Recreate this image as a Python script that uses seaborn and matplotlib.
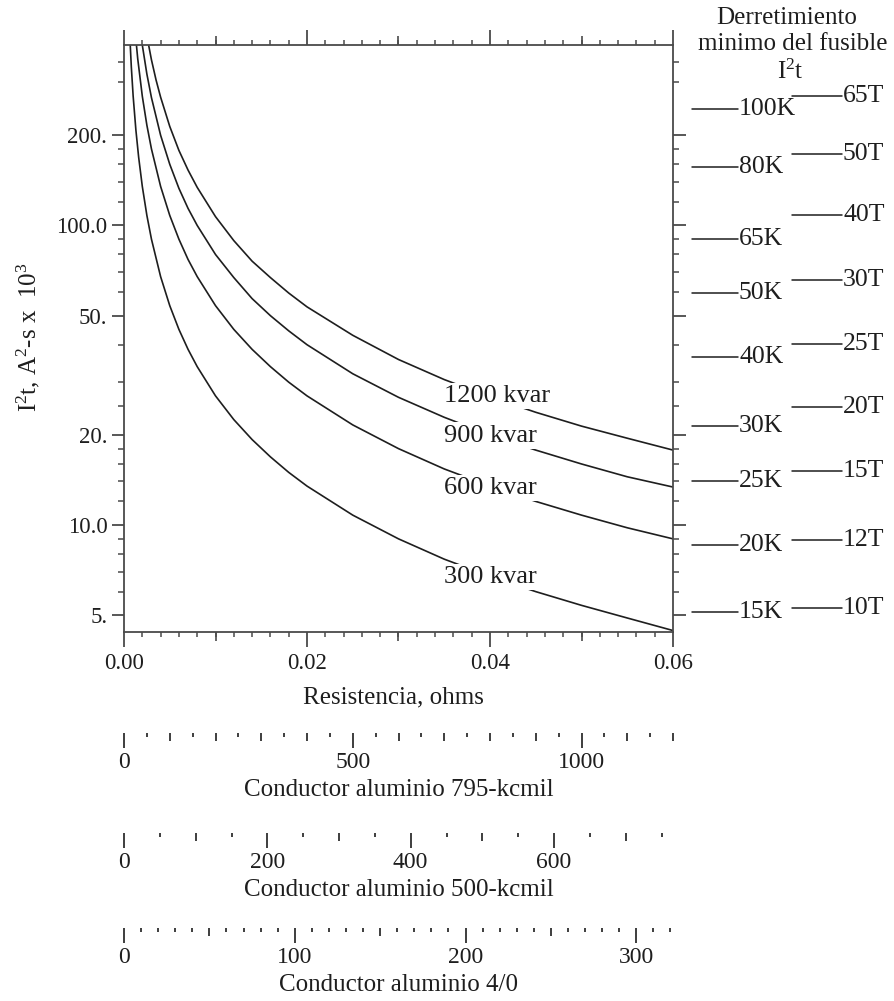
import numpy as np
import pandas as pd
import matplotlib
matplotlib.use("Agg")
import matplotlib.pyplot as plt
import matplotlib.transforms as mtransforms
from matplotlib.ticker import FixedLocator, FixedFormatter, NullFormatter
import seaborn as sns

# ---------------- data ----------------
kvar_labels = ["300 kvar", "600 kvar", "900 kvar", "1200 kvar"]

res_300 = [0.0006, 0.0008, 0.001, 0.0013, 0.0016, 0.002, 0.0025, 0.003, 0.004, 0.005,
           0.006, 0.007, 0.008, 0.010, 0.012, 0.014, 0.016, 0.018, 0.020, 0.025,
           0.030, 0.035, 0.040, 0.045, 0.050, 0.055, 0.060]
i2t_300 = [450, 338, 270, 208, 169, 135, 108, 90, 67.5, 54,
           45, 38.6, 33.8, 27, 22.5, 19.3, 16.9, 15, 13.5, 10.8,
           9.0, 7.7, 6.75, 6.0, 5.4, 4.9, 4.45]

res_600 = [0.0012, 0.0015, 0.002, 0.0025, 0.003, 0.004, 0.005, 0.006, 0.007, 0.008,
           0.010, 0.012, 0.014, 0.016, 0.018, 0.020, 0.025, 0.030, 0.035, 0.040,
           0.045, 0.050, 0.055, 0.060]
i2t_600 = [450, 360, 270, 216, 180, 135, 108, 90, 77, 67.5,
           54, 45, 38.6, 33.8, 30, 27, 21.6, 18, 15.4, 13.5,
           12, 10.8, 9.8, 9.0]

res_900 = [0.0018, 0.002, 0.0025, 0.003, 0.004, 0.005, 0.006, 0.007, 0.008, 0.010,
           0.012, 0.014, 0.016, 0.018, 0.020, 0.025, 0.030, 0.035, 0.040, 0.045,
           0.050, 0.055, 0.060]
i2t_900 = [445, 400, 320, 267, 200, 160, 133, 114, 100, 80,
           67, 57, 50, 44.5, 40, 32, 26.7, 22.9, 20, 17.8,
           16, 14.5, 13.4]

res_1200 = [0.0024, 0.003, 0.0035, 0.004, 0.005, 0.006, 0.007, 0.008, 0.010, 0.012,
            0.014, 0.016, 0.018, 0.020, 0.025, 0.030, 0.035, 0.040, 0.045, 0.050,
            0.055, 0.060]
i2t_1200 = [445, 357, 306, 268, 214, 178, 153, 134, 107, 89,
            76, 67, 59.5, 53.5, 43, 35.7, 30.6, 26.8, 23.8, 21.4,
            19.5, 17.8]

label_x = [0.0400, 0.0400, 0.0400, 0.0408]
label_y = [6.7, 13.3, 19.9, 27.0]

y_ticks = [5, 10, 20, 50, 100, 200]
y_tick_labels = ["5.", "10.0", "20.", "50.", "100.0", "200."]
y_minor = [6, 7, 8, 9, 12, 14, 16, 18, 25, 30, 40, 60, 70, 80, 90,
           120, 140, 160, 180, 300, 350]
x_ticks = [0.0, 0.02, 0.04, 0.06]
x_tick_labels = ["0.00", "0.02", "0.04", "0.06"]
x_mid = [0.01, 0.03, 0.05]
x_minor = [round(0.002 * i, 3) for i in range(31)]

k_fuses = ["100K", "80K", "65K", "50K", "40K", "30K", "25K", "20K", "15K"]
k_i2t = [244, 157, 90, 59.3, 36.3, 21.4, 14.0, 8.56, 5.13]
t_fuses = ["65T", "50T", "40T", "30T", "25T", "20T", "15T", "12T", "10T"]
t_i2t = [270, 173, 108, 65.6, 40.2, 24.7, 15.2, 8.94, 5.30]

header_lines = ["Derretimiento", "minimo del fusible", "I$^{2}$t"]

scale_titles = ["Conductor aluminio 795-kcmil", "Conductor aluminio 500-kcmil",
                "Conductor aluminio 4/0"]
scale_max = [1200, 766, 321.5]
scale_major = [[0, 500, 1000], [0, 200, 400, 600], [0, 100, 200, 300]]
scale_mid = [[100, 200, 300, 400, 600, 700, 800, 900, 1100, 1200],
             [100, 300, 500, 700],
             [50, 150, 250]]
scale_short = [[50, 150, 250, 350, 450, 550, 650, 750, 850, 950, 1050, 1150],
               [50, 150, 250, 350, 450, 550, 650, 750],
               [10, 20, 30, 40, 60, 70, 80, 90, 110, 120, 130, 140, 160, 170, 180, 190,
                210, 220, 230, 240, 260, 270, 280, 290, 310, 320]]

# ---------------- style ----------------
sns.set_theme(style="ticks")
plt.rcParams['font.family'] = ['Liberation Serif', 'DejaVu Serif']
INK = "#1e1e1e"
AX = "#4a4a4a"
plt.rcParams.update({
    "text.color": INK,
    "axes.labelcolor": INK,
    "xtick.color": AX,
    "ytick.color": AX,
    "xtick.labelcolor": INK,
    "ytick.labelcolor": INK,
    "axes.edgecolor": AX,
    "axes.linewidth": 1.3,
    "mathtext.fontset": "custom",
    "mathtext.rm": "Liberation Serif",
    "mathtext.it": "Liberation Serif:italic",
    "mathtext.bf": "Liberation Serif:bold",
})

W, H = 894, 1001
fig = plt.figure(figsize=(W / 100, H / 100), dpi=100)


def rect(l, t, r, b):
    return [l / W, 1 - b / H, (r - l) / W, (b - t) / H]


ax = fig.add_axes(rect(124, 45, 673, 632))

frames = []
for lab, r, v in zip(kvar_labels, [res_300, res_600, res_900, res_1200],
                     [i2t_300, i2t_600, i2t_900, i2t_1200]):
    frames.append(pd.DataFrame({"R": r, "I2t": v, "kvar": lab}))
df = pd.concat(frames, ignore_index=True)

sns.lineplot(data=df, x="R", y="I2t", hue="kvar", hue_order=kvar_labels,
             palette=[INK] * 4, estimator=None, sort=False, legend=False,
             linewidth=1.2, ax=ax)
ax.set_yscale("log")

for lab, lx, ly in zip(kvar_labels, label_x, label_y):
    ax.text(lx, ly, lab, ha="center", va="center", fontsize=19,
            bbox=dict(fc="white", ec="none", pad=1.5), zorder=5)

# ticks
ax.yaxis.set_major_locator(FixedLocator(y_ticks))
ax.yaxis.set_major_formatter(FixedFormatter(y_tick_labels))
ax.yaxis.set_minor_locator(FixedLocator(y_minor))
ax.yaxis.set_minor_formatter(NullFormatter())
ax.tick_params(axis="y", which="major", direction="out", length=9, width=1.3,
               left=True, right=True, labelsize=16.5, pad=3)
ax.tick_params(axis="y", which="minor", direction="out", length=4.5, width=1.1,
               left=True, right=True)

ax.xaxis.set_major_locator(FixedLocator(x_ticks))
ax.xaxis.set_major_formatter(FixedFormatter(x_tick_labels))
ax.xaxis.set_minor_locator(FixedLocator(x_minor))
ax.xaxis.set_minor_formatter(NullFormatter())
ax.tick_params(axis="x", which="major", direction="out", length=11, width=1.3,
               top=True, bottom=True, labelsize=16.5, pad=4)
ax.tick_params(axis="x", which="minor", direction="out", length=3.5, width=1.1,
               top=True, bottom=True)
for loc in ["top", "bottom"]:
    sec = ax.secondary_xaxis(loc)
    sec.xaxis.set_major_locator(FixedLocator(x_mid))
    sec.xaxis.set_major_formatter(NullFormatter())
    sec.tick_params(axis="x", direction="out", length=6.5, width=1.2, color=AX)
    for s in sec.spines.values():
        s.set_visible(False)

ax.set_xlabel("Resistencia, ohms", fontsize=18, va="center")
ax.xaxis.set_label_coords(0.49, (632 - 697) / 587)
ax.set_ylabel("I$^{2}$t, A$^{2}$-s x  10$^{3}$", fontsize=18, va="center")
ax.yaxis.set_label_coords((28 - 124) / 549, (632 - 337) / 587)

# right-hand fuse markers
trans = mtransforms.blended_transform_factory(fig.transFigure, ax.transData)
for name, val in zip(k_fuses, k_i2t):
    ax.plot([692 / W, 738 / W], [val, val], transform=trans, color=INK,
            lw=1.1, clip_on=False)
    ax.text(739 / W, val, name, transform=trans, ha="left", va="center",
            fontsize=18.5, clip_on=False)
for name, val in zip(t_fuses, t_i2t):
    ax.plot([792 / W, 842 / W], [val, val], transform=trans, color=INK,
            lw=1.1, clip_on=False)
    ax.text(843 / W, val, name, transform=trans, ha="left", va="center",
            fontsize=18.5, clip_on=False)

for txt, (hx, hy) in zip(header_lines, [(787, 18), (793, 44), (790, 72)]):
    fig.text(hx / W, 1 - hy / H, txt, ha="center", va="center", fontsize=18)

ax.set_xlim(0, 0.06)
ax.set_ylim(4.4, 400)

# conductor-length scales
for i, yb in enumerate([733, 833, 928]):
    sax = fig.add_axes(rect(124, yb - 1, 673, yb))
    sax.set_xlim(0, scale_max[i])
    sax.set_yticks([])
    sax.patch.set_visible(False)
    for s in sax.spines.values():
        s.set_visible(False)
    sax.xaxis.set_major_locator(FixedLocator(scale_major[i]))
    sax.xaxis.set_major_formatter(FixedFormatter([str(v) for v in scale_major[i]]))
    sax.xaxis.set_minor_locator(FixedLocator(scale_mid[i]))
    sax.xaxis.set_minor_formatter(NullFormatter())
    sax.tick_params(axis="x", which="major", direction="out", length=11, width=1.2,
                    labelsize=17, pad=3, color=INK)
    sax.tick_params(axis="x", which="minor", direction="out", length=6, width=1.2,
                    color=INK)
    sec = sax.secondary_xaxis("bottom")
    sec.xaxis.set_major_locator(FixedLocator(scale_short[i]))
    sec.xaxis.set_major_formatter(NullFormatter())
    sec.tick_params(axis="x", direction="out", length=3, width=1.2, color=INK)
    for s in sec.spines.values():
        s.set_visible(False)
    sax.set_xlabel(scale_titles[i], fontsize=18, labelpad=4)

fig.savefig("out.png", dpi=100)
